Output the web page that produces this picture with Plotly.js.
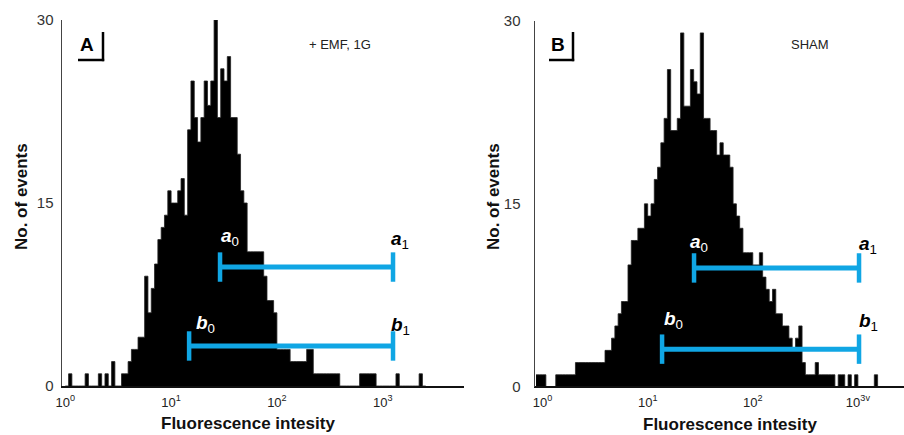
<!DOCTYPE html>
<html><head><meta charset="utf-8">
<script src="https://cdn.plot.ly/plotly-3.0.1.min.js"></script>
<style>html,body{margin:0;padding:0;background:#fff}#chart{width:904px;height:435px}</style>
</head><body><div id="chart"></div>
<script>
// Histogram channel grid: 32 channels per decade (log10 units)
const binWidthLog = 1 / 32;
const startLogA = 0;
const startLogB = -2 / 32;

// Panel A (+ EMF, 1G): events per channel
const countsA = [0,1,0,0,0,0,1,0,0,0, 1,0,1,0,2,0,0,1,1,2, 3,3,4,4,9,6,8,10,12,13,
  14,16,15,15,16,17,14,21,25,22, 20,22,25,23,25,30,22,26,25,27, 22,22,19,16,15,11,11,11,11,11,
  9,7,7,6,3,3,3,3,2,2, 2,2,2,3,3,1,1,1,1,1, 1,1,1,0,0,0,0,0,0,1,
  1,1,1,1,0,0,0,0,0,0, 1,0,0,0,0,0,0,1,0];
// Panel B (SHAM): events per channel
const countsB = [1,1,1,0,0,0,1,1,1,1, 1,1,2,2,2,2,2,2,2,2, 2,3,3,4,5,6,7,7,10,12,
  12,13,13,15,14,15,17,18,20,22, 26,21,21,22,29,23,23,26,25,24, 29,22,22,21,21,19,20,19,19,18,
  15,14,13,11,11,11,10,10,11,9, 8,7,8,6,6,5,5,4,3,4, 5,2,1,1,1,2,1,1,1,1,
  1,0,1,1,0,1,0,1,0,0, 0,0,0,1,0];

// Gates (fluorescence start, end; height in events)
const gateAa = [29.0, 1251]; const gateAaY = 9.75;
const gateAb = [14.8, 1251]; const gateAbY = 3.28;
const gateBa = [27.6, 1025]; const gateBaY = 9.75;
const gateBb = [13.7, 1025]; const gateBbY = 3.1;

const xTickVals = [1, 10, 100, 1000];
const xTickTextA = ['10<sup>0</sup>','10<sup>1</sup>','10<sup>2</sup>','10<sup>3</sup>'];
const xTickTextB = ['10<sup>0</sup>','10<sup>1</sup>','10<sup>2</sup>','10<sup>3v</sup>'];
const yTickVals = [0, 15, 30];

function stepXY(counts, startLog) {
  const x = [], y = [];
  for (let i = 0; i <= counts.length; i++) {
    x.push(Math.pow(10, startLog + i * binWidthLog));
    y.push(i < counts.length ? counts[i] : counts[counts.length - 1]);
  }
  return {x, y};
}
const sA = stepXY(countsA, startLogA);
const sB = stepXY(countsB, startLogB);

const BLUE = '#10a6e4';
function gateTrace(xs, yv, xa, ya) {
  return {x: xs, y: [yv, yv], xaxis: xa, yaxis: ya, type: 'scatter', mode: 'lines+markers',
    line: {color: BLUE, width: 5}, marker: {symbol: 'line-ns', size: 21, line: {color: BLUE, width: 4.5}, color: BLUE},
    hoverinfo: 'skip', cliponaxis: false};
}

const traces = [
  {x: sA.x, y: sA.y, type: 'scatter', mode: 'lines', line: {shape: 'hv', color: '#222', width: 0.8},
   fill: 'tozeroy', fillcolor: '#000', xaxis: 'x', yaxis: 'y', hoverinfo: 'skip'},
  {x: sB.x, y: sB.y, type: 'scatter', mode: 'lines', line: {shape: 'hv', color: '#222', width: 0.8},
   fill: 'tozeroy', fillcolor: '#000', xaxis: 'x2', yaxis: 'y2', hoverinfo: 'skip'},
  gateTrace(gateAa, gateAaY, 'x', 'y'),
  gateTrace(gateAb, gateAbY, 'x', 'y'),
  gateTrace(gateBa, gateBaY, 'x2', 'y2'),
  gateTrace(gateBb, gateBbY, 'x2', 'y2')
];

const W = 904, H = 435;
const px = v => v / W, py = v => 1 - v / H;
const tickFontY = {family: 'Liberation Sans Narrow, Liberation Sans, sans-serif', size: 15, color: '#333'};
const tickFontX = {family: 'Liberation Sans Narrow, Liberation Sans, sans-serif', size: 13, color: '#222'};

function xAxis(domain, range, ticktext) {
  return {type: 'log', domain: domain, range: range, tickvals: xTickVals, ticktext: ticktext,
    ticks: '', showgrid: false, zeroline: false, showline: true, linecolor: '#111', linewidth: 2,
    tickfont: tickFontX, ticklabelstandoff: 3, fixedrange: true};
}
function yAxis(domain, anchor, standoff) {
  return {domain: domain, range: [0, 30], anchor: anchor, tickvals: yTickVals, ticks: '', showgrid: false,
    zeroline: false, showline: true, linecolor: '#444', linewidth: 1.5, tickfont: tickFontY,
    ticklabelstandoff: standoff, fixedrange: true};
}

function gateLabel(letter, sub, x, y, xs, ys, color, xref, yref) {
  return {text: '<b><i>' + letter + '</i></b><sub>' + sub + '</sub>', x: Math.log10(x), y: y, xref: xref, yref: yref,
    xshift: xs, yshift: ys, showarrow: false, xanchor: 'center', yanchor: 'middle',
    font: {family: 'Liberation Sans, sans-serif', size: 19, color: color}};
}
const titleFont = {family: 'Liberation Sans, sans-serif', size: 17, color: '#111', weight: 'bold'};
function note(text, x, y, font, extra) {
  return Object.assign({text: text, xref: 'paper', yref: 'paper', x: px(x), y: py(y), showarrow: false,
    xanchor: 'center', yanchor: 'middle', font: font}, extra || {});
}

const layout = {
  width: W, height: H, margin: {l: 0, r: 0, t: 0, b: 0}, paper_bgcolor: '#fff', plot_bgcolor: 'rgba(0,0,0,0)',
  showlegend: false, font: {family: 'Liberation Sans, sans-serif'},
  xaxis: xAxis([px(62), px(464)], [-0.031, 3.768], xTickTextA),
  yaxis: yAxis([1 - 386 / H, 1 - 20 / H], 'x', 4),
  xaxis2: xAxis([px(535), 1], [-0.0723, 3.4386], xTickTextB),
  yaxis2: yAxis([1 - 387 / H, 1 - 20.7 / H], 'x2', 10),
  shapes: [
    {type: 'line', xref: 'paper', yref: 'paper', x0: px(103), x1: px(103), y0: py(32), y1: py(61.2), line: {color: '#000', width: 2.5}},
    {type: 'line', xref: 'paper', yref: 'paper', x0: px(78), x1: px(104.2), y0: py(60), y1: py(60), line: {color: '#000', width: 2.5}},
    {type: 'line', xref: 'paper', yref: 'paper', x0: px(573), x1: px(573), y0: py(32), y1: py(61.2), line: {color: '#000', width: 2.5}},
    {type: 'line', xref: 'paper', yref: 'paper', x0: px(549), x1: px(574.2), y0: py(60), y1: py(60), line: {color: '#000', width: 2.5}}
  ],
  annotations: [
    note('A', 87, 44, {size: 19, color: '#000', weight: 'bold'}),
    note('B', 558, 44, {size: 19, color: '#000', weight: 'bold'}),
    note('+ EMF, 1G', 340, 44, {size: 13, color: '#222'}),
    note('SHAM', 810, 44, {size: 13, color: '#222'}),
    note('Fluorescence intesity', 248, 423, titleFont),
    note('Fluorescence intesity', 730, 424, titleFont),
    note('No. of events', 21, 197, titleFont, {textangle: -90}),
    note('No. of events', 493, 197, titleFont, {textangle: -90}),
    gateLabel('a', '0', gateAa[0], gateAaY, 10, 30, '#fff', 'x', 'y'),
    gateLabel('a', '1', gateAa[1], gateAaY, 7, 27, '#000', 'x', 'y'),
    gateLabel('b', '0', gateAb[0], gateAbY, 16, 22, '#fff', 'x', 'y'),
    gateLabel('b', '1', gateAb[1], gateAbY, 7, 20, '#000', 'x', 'y'),
    gateLabel('a', '0', gateBa[0], gateBaY, 5, 25, '#fff', 'x2', 'y2'),
    gateLabel('a', '1', gateBa[1], gateBaY, 9, 23, '#000', 'x2', 'y2'),
    gateLabel('b', '0', gateBb[0], gateBbY, 11, 29, '#fff', 'x2', 'y2'),
    gateLabel('b', '1', gateBb[1], gateBbY, 9, 27, '#000', 'x2', 'y2')
  ]
};

Plotly.newPlot('chart', traces, layout, {displayModeBar: false, staticPlot: true});
</script>
</body></html>
